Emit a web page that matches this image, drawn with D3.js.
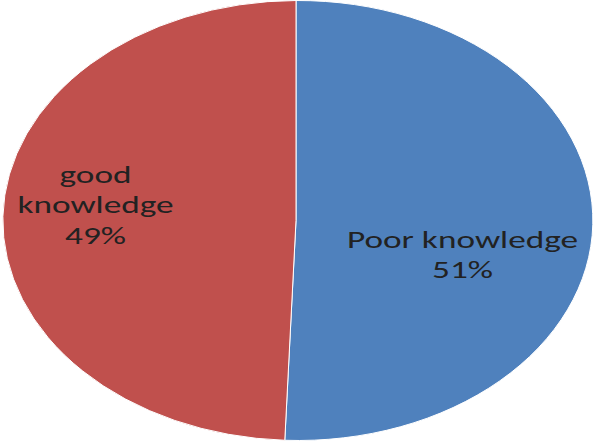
<!DOCTYPE html>
<html><head><meta charset="utf-8">
<script src="https://cdn.jsdelivr.net/npm/d3@7"></script>
<style>body{margin:0;background:#fff}svg{display:block}</style>
</head><body><svg id="c" width="595" height="443"></svg>
<script>
const categories = ["Poor knowledge", "good knowledge"];
const values = [50.6, 49.4];
const colors = ["#4F81BD", "#C0504D"];

const W = 595, H = 443;
const cx = 296, cy = 220.5, rx = 295, ry = 220;
const svg = d3.select("#c");
const pie = d3.pie().sort(null).value(d => d)(values);
const arc = d3.arc().innerRadius(0).outerRadius(1);
const g = svg.append("g").attr("transform", `translate(${cx},${cy}) scale(${rx},${ry})`);
g.selectAll("path").data(pie).enter().append("path")
  .attr("d", arc)
  .attr("fill", (d, i) => colors[i])
  .attr("stroke", "#fff").attr("stroke-width", 1)
  .attr("vector-effect", "non-scaling-stroke");

const total = d3.sum(values);
const labels = [
  {lines: ["Poor knowledge", Math.round(values[0] / total * 100) + "%"], x: 462.5, y: 248},
  {lines: ["good", "knowledge", Math.round(values[1] / total * 100) + "%"], x: 95.5, y: 183}
];
const fs = 24, lh = 30.5, stretch = 1.47;
labels.forEach(l => {
  const t = svg.append("g").attr("transform", `translate(${l.x},${l.y}) scale(${stretch},1)`);
  l.lines.forEach((s, i) => {
    t.append("text").attr("x", 0).attr("y", i * lh)
      .attr("text-anchor", "middle")
      .attr("font-family", "Carlito, Calibri, Lato, sans-serif")
      .attr("font-size", fs).attr("fill", "#222").text(s);
  });
});
</script></body></html>
